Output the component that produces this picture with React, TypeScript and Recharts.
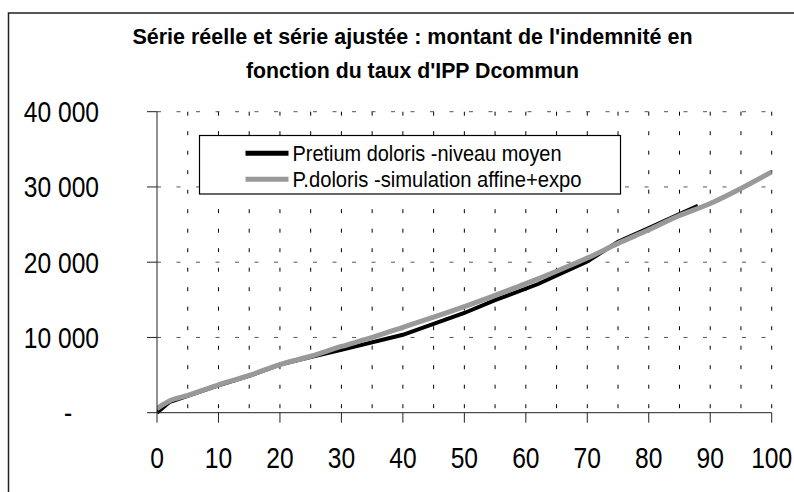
import React from "react";
import { CartesianGrid, Line, LineChart, XAxis, YAxis } from "recharts";

// taux d'IPP (%) and montant de l'indemnité
const ippReel = [0, 2, 5, 10, 15, 20, 25, 30, 40, 50, 55, 62, 70, 75, 80, 85, 88];
const montantReel = [0, 1400, 2250, 3650, 4900, 6400, 7400, 8350, 10350, 13250, 14950, 17100, 20100, 22700, 24550, 26400, 27500];

const ippSimul = [0, 2, 5, 10, 15, 20, 25, 30, 35, 40, 45, 50, 55, 60, 65, 70, 75, 80, 85, 90, 95, 100];
const montantSimul = [550, 1550, 2300, 3700, 4950, 6400, 7500, 8800, 10000, 11350, 12700, 14100, 15600, 17150, 18800, 20550, 22500, 24300, 26200, 27800, 29800, 32000];

const xTicks = [0, 10, 20, 30, 40, 50, 60, 70, 80, 90, 100];
const yTicks = [0, 10000, 20000, 30000, 40000];
const xGrid = [5, 10, 15, 20, 25, 30, 35, 40, 45, 50, 55, 60, 65, 70, 75, 80, 85, 90, 95, 100];
const yGrid = [10000, 20000, 30000, 40000];

const titleLines = ["Série réelle et série ajustée  : montant de l'indemnité en", "fonction du taux d'IPP Dcommun"];
const seriesNames = ["Pretium doloris -niveau moyen", "P.doloris -simulation affine+expo"];
const seriesColors = ["#000000", "#999999"];

// no Arial Narrow here: Liberation Sans squeezed horizontally
const FONT = "'Liberation Sans', Arial, sans-serif";
const NARROW = 0.82;

const reelData = ippReel.map((x, i) => ({ x, y: montantReel[i] }));
const simulData = ippSimul.map((x, i) => ({ x, y: montantSimul[i] }));

const formatMontant = (v: number) =>
  v === 0 ? "-" : String(v).replace(/\B(?=(\d{3})+(?!\d))/g, " ");

const XTick = ({ x, y, payload }: any) => (
  <text
    transform={`translate(${x},${y + 43}) scale(${NARROW},1)`}
    textAnchor="middle"
    fontSize={30}
    fontFamily={FONT}
    fill="#000"
  >
    {payload.value}
  </text>
);

const YTick = ({ x, y, payload }: any) => {
  const zero = payload.value === 0;
  return (
    <text
      transform={`translate(${zero ? x - 77 : x - 46},${y + 10.5}) scale(${NARROW},1)`}
      textAnchor={zero ? "middle" : "end"}
      fontSize={30}
      fontFamily={FONT}
      fill="#000"
    >
      {formatMontant(payload.value)}
    </text>
  );
};

export default function App() {
  return (
    <div style={{ position: "relative", width: 794, height: 492, background: "#fff", overflow: "hidden" }}>
      <style>{"body{margin:0;}"}</style>

      <div style={{ position: "absolute", left: 0, top: 0 }}>
        <LineChart width={794} height={492} margin={{ top: 111.7, right: 22.3, bottom: 19.3, left: 0 }}>
          <CartesianGrid
            horizontal={false}
            vertical
            verticalValues={xGrid}
            stroke="#000"
            strokeDasharray="4 15.5"
          />
          <CartesianGrid
            horizontal
            vertical={false}
            horizontalValues={yGrid}
            stroke="#555"
            strokeDasharray="4 15.5"
          />
          <XAxis
            dataKey="x"
            type="number"
            domain={[0, 100]}
            ticks={xTicks}
            allowDataOverflow
            height={60}
            tickSize={10}
            stroke="#222"
            tick={<XTick />}
          />
          <YAxis
            dataKey="y"
            type="number"
            domain={[0, 40000]}
            ticks={yTicks}
            width={157}
            tickSize={10}
            stroke="#222"
            tick={<YTick />}
          />
          <Line
            data={reelData}
            dataKey="y"
            name={seriesNames[0]}
            type="linear"
            stroke={seriesColors[0]}
            strokeWidth={4}
            dot={false}
            activeDot={false}
            isAnimationActive={false}
          />
          <Line
            data={simulData}
            dataKey="y"
            name={seriesNames[1]}
            type="monotone"
            stroke={seriesColors[1]}
            strokeWidth={5}
            dot={false}
            activeDot={false}
            isAnimationActive={false}
          />
        </LineChart>
      </div>

      {/* frame, title and legend drawn over the chart */}
      <svg width={794} height={492} style={{ position: "absolute", left: 0, top: 0 }}>
        <path d="M8.5,492 V13 H794" fill="none" stroke="#222" strokeWidth={1.5} />
        {titleLines.map((t, i) => (
          <text
            key={t}
            x={412.5}
            y={43.5 + i * 34}
            textAnchor="middle"
            fontFamily={FONT}
            fontWeight="bold"
            fontSize={22}
            textLength={i === 0 ? 560 : 333}
            lengthAdjust="spacingAndGlyphs"
            fill="#000"
          >
            {t}
          </text>
        ))}
        <rect x={199.5} y={135.5} width={421} height={58.5} fill="#fff" stroke="#000" strokeWidth={1.2} />
        {seriesNames.map((name, i) => (
          <g key={name}>
            <line
              x1={245.5}
              x2={288.5}
              y1={153.3 + i * 26}
              y2={153.3 + i * 26}
              stroke={seriesColors[i]}
              strokeWidth={5}
            />
            <text
              x={292.5}
              y={160.5 + i * 26}
              fontFamily={FONT}
              fontSize={22}
              textLength={i === 0 ? 269 : 289}
              lengthAdjust="spacingAndGlyphs"
              fill="#000"
            >
              {name}
            </text>
          </g>
        ))}
      </svg>
    </div>
  );
}
